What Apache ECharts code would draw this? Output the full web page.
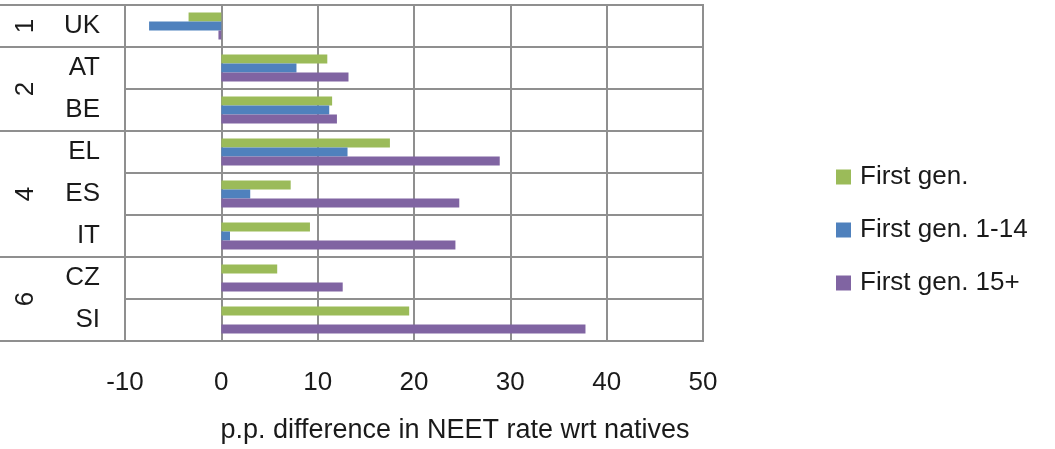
<!DOCTYPE html>
<html>
<head>
<meta charset="utf-8">
<script src="https://cdn.jsdelivr.net/npm/echarts@6/dist/echarts.min.js"></script>
<style>
  html, body { margin: 0; padding: 0; background: #fff; }
  #chart { width: 1055px; height: 449px; }
</style>
</head>
<body>
<div id="chart"></div>
<script>
// values
const countries = ['UK', 'AT', 'BE', 'EL', 'ES', 'IT', 'CZ', 'SI'];
const groups = ['1', '2', '2', '4', '4', '4', '6', '6'];
const firstGen = [-3.4, 11.0, 11.5, 17.5, 7.2, 9.2, 5.8, 19.5];
const firstGen1to14 = [-7.5, 7.8, 11.2, 13.1, 3.0, 0.9, null, null];
const firstGen15plus = [-0.3, 13.2, 12.0, 28.9, 24.7, 24.3, 12.6, 37.8];
const seriesNames = ['First gen.', 'First gen. 1-14', 'First gen. 15+'];

// where each group starts/ends, and the middle of it (for the outer label level)
const groupEdges = [0];
const groupMid = {};
let start = 0;
for (let i = 1; i <= groups.length; i++) {
  if (i === groups.length || groups[i] !== groups[start]) {
    groupMid[(start + i) / 2] = groups[start];
    groupEdges.push(i);
    start = i;
  }
}

const gridColor = '#8f8f8f';
const textColor = '#1a1a1a';
const font = 'Liberation Sans';

const chart = echarts.init(document.getElementById('chart'));
chart.setOption({
  animation: false,
  textStyle: { fontFamily: font, color: textColor },
  color: ['#9bbb59', '#4f81bd', '#8064a2'],
  grid: {
    left: 125, right: 352, top: 5, bottom: 108,
    show: true, borderColor: gridColor, borderWidth: 2
  },
  legend: {
    orient: 'vertical',
    left: 831, top: 159,
    icon: 'rect',
    itemWidth: 15, itemHeight: 15, itemGap: 27,
    textStyle: { fontSize: 26, color: textColor, fontFamily: font, padding: [0, 0, 0, 4] },
    data: seriesNames
  },
  xAxis: {
    type: 'value',
    min: -10, max: 50, interval: 10,
    axisLine: { show: false },
    axisTick: { show: false },
    axisLabel: { fontSize: 26, color: textColor, margin: 29 },
    splitLine: { lineStyle: { color: gridColor, width: 2 } },
    name: 'p.p. difference in NEET rate wrt natives',
    nameLocation: 'middle',
    nameGap: 76,
    nameTextStyle: { fontSize: 27, color: textColor, padding: [0, 0, 0, 82] }
  },
  yAxis: [
    {
      type: 'category',
      data: countries,
      inverse: true,
      axisLine: { show: false },
      axisTick: { show: false },
      axisLabel: { fontSize: 26, color: textColor, margin: 25 },
      splitLine: { show: true, lineStyle: { color: gridColor, width: 2 } }
    },
    {
      type: 'value',
      position: 'left',
      min: 0, max: countries.length,
      inverse: true,
      axisLine: { show: false },
      splitLine: { show: false },
      axisTick: {
        show: true,
        customValues: groupEdges,
        length: 125,
        lineStyle: { color: gridColor, width: 2 }
      },
      axisLabel: {
        customValues: Object.keys(groupMid).map(Number),
        formatter: v => groupMid[v] || '',
        rotate: 90,
        margin: 86,
        fontSize: 26,
        color: textColor
      }
    }
  ],
  series: [
    { name: seriesNames[0], type: 'bar', data: firstGen, barWidth: 9, barGap: '0%' },
    { name: seriesNames[1], type: 'bar', data: firstGen1to14, barWidth: 9, barGap: '0%' },
    { name: seriesNames[2], type: 'bar', data: firstGen15plus, barWidth: 9, barGap: '0%' }
  ]
});
</script>
</body>
</html>
